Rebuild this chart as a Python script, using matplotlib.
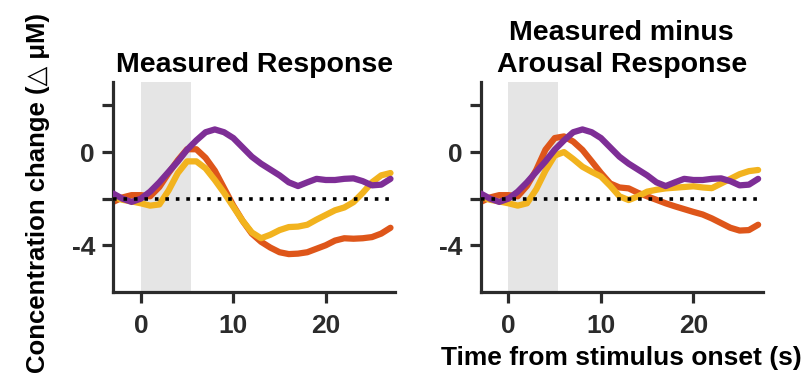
import numpy as np
import matplotlib
matplotlib.use("Agg")
import matplotlib.pyplot as plt

plt.rcParams['font.family'] = ['Liberation Sans', 'DejaVu Sans']
plt.rcParams['font.weight'] = 'bold'

# --- data (1 s steps) ---
time_s = list(range(-3, 28))

purple = [-1.78, -2.0, -2.14, -2.0, -1.7, -1.3, -0.85, -0.4, 0.1, 0.5, 0.85,
          0.97, 0.85, 0.6, 0.2, -0.2, -0.5, -0.75, -1.0, -1.3, -1.46, -1.3,
          -1.15, -1.2, -1.2, -1.15, -1.13, -1.25, -1.43, -1.4, -1.15]

orange_measured = [-2.14, -1.95, -1.85, -1.85, -1.9, -1.5, -0.9, -0.35, 0.12,
                   0.12, -0.25, -0.8, -1.55, -2.3, -2.95, -3.5, -3.85, -4.1,
                   -4.3, -4.38, -4.36, -4.3, -4.15, -4.0, -3.8, -3.7, -3.72,
                   -3.7, -3.65, -3.5, -3.25]

yellow_measured = [-1.92, -2.05, -2.12, -2.2, -2.3, -2.25, -1.65, -0.9, -0.4,
                   -0.4, -0.7, -1.2, -1.75, -2.35, -2.95, -3.45, -3.7, -3.55,
                   -3.35, -3.22, -3.2, -3.12, -2.9, -2.7, -2.5, -2.38, -2.15,
                   -1.75, -1.3, -1.0, -0.9]

orange_minus = [-2.14, -1.95, -1.85, -1.85, -1.9, -1.45, -0.77, 0.1, 0.6, 0.67,
                0.45, 0.09, -0.4, -0.9, -1.35, -1.52, -1.56, -1.75, -1.9, -2.05,
                -2.2, -2.33, -2.45, -2.57, -2.68, -2.85, -3.05, -3.25, -3.37,
                -3.35, -3.12]

yellow_minus = [-1.92, -2.05, -2.12, -2.2, -2.3, -2.2, -1.6, -0.8, -0.15, 0.0,
                -0.3, -0.63, -0.85, -1.05, -1.45, -1.9, -2.06, -1.9, -1.7, -1.62,
                -1.56, -1.53, -1.5, -1.47, -1.52, -1.55, -1.35, -1.15, -0.95,
                -0.82, -0.77]

baseline = -2
stim_on, stim_off = 0, 5.4
titles = ['Measured Response', 'Measured minus\nArousal Response']

c_orange = '#de561a'
c_yellow = '#f2b31e'
c_purple = '#7e2e96'

fig = plt.figure(figsize=(8.08, 3.82), dpi=100)
ax1 = fig.add_axes([0.140, 0.236, 0.349, 0.549])
ax2 = fig.add_axes([0.595, 0.236, 0.349, 0.549])

panels = [(ax1, orange_measured, yellow_measured),
          (ax2, orange_minus, yellow_minus)]

for i, (ax, orange, yellow) in enumerate(panels):
    ax.axvspan(stim_on, stim_off, color='#e5e5e5', lw=0, zorder=0)
    for vals, col, z in [(orange, c_orange, 2), (yellow, c_yellow, 3),
                         (purple, c_purple, 4)]:
        ax.plot(time_s, vals, color=col, lw=4.5, solid_capstyle='round',
                solid_joinstyle='round', zorder=z)
    ax.plot([-3, 27], [baseline, baseline], color='black', lw=2.6,
            linestyle=(0, (1, 1.9)), zorder=5)

    ax.set_xlim(-3, 27.5)
    ax.set_ylim(-6, 3)
    ax.set_xticks([0, 10, 20])
    ax.set_yticks([2, 0, -2, -4])
    ax.set_yticklabels(['', '0', '', '-4'])
    for s in ['top', 'right']:
        ax.spines[s].set_visible(False)
    for s in ['left', 'bottom']:
        ax.spines[s].set_linewidth(2.3)
        ax.spines[s].set_color('#2b2b2b')
    ax.tick_params(width=2.3, length=8, color='#2b2b2b', labelsize=19,
                   labelcolor='#2b2b2b')
    ax.tick_params(axis='x', pad=8)
    ax.tick_params(axis='y', pad=5)
    for lab in ax.get_xticklabels() + ax.get_yticklabels():
        lab.set_fontweight('bold')
    ax.set_title(titles[i], fontsize=20.5, fontweight='bold', pad=7,
                 linespacing=1.3)

ax1.set_ylabel('Concentration change (△ μM)', fontsize=18.5,
               fontweight='bold')
ax1.yaxis.set_label_coords(-0.225, 0.47)
ax2.set_xlabel('Time from stimulus onset (s)', fontsize=19,
               fontweight='bold', labelpad=6)

fig.savefig('out.png', dpi=100)
